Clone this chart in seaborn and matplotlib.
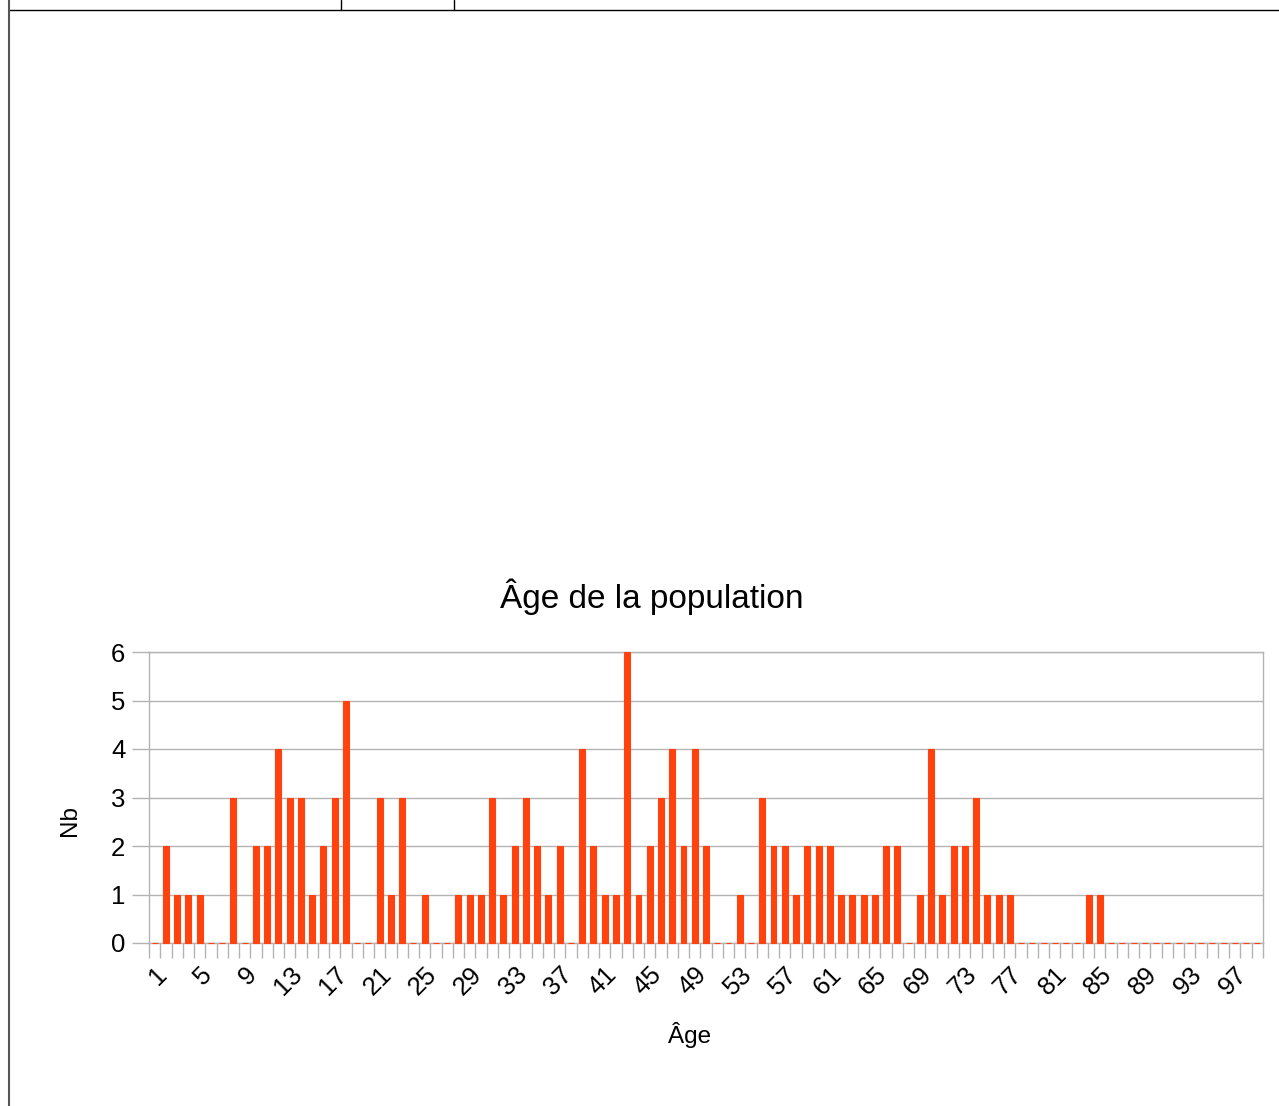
import pandas as pd
import seaborn as sns
import matplotlib.pyplot as plt
from matplotlib.lines import Line2D

ages = list(range(1, 100))
counts = [
    0, 2, 1, 1, 1, 0, 0, 3, 0, 2,    # 1-10
    2, 4, 3, 3, 1, 2, 3, 5, 0, 0,    # 11-20
    3, 1, 3, 0, 1, 0, 0, 1, 1, 1,    # 21-30
    3, 1, 2, 3, 2, 1, 2, 0, 4, 2,    # 31-40
    1, 1, 6, 1, 2, 3, 4, 2, 4, 2,    # 41-50
    0, 0, 1, 0, 3, 2, 2, 1, 2, 2,    # 51-60
    2, 1, 1, 1, 1, 2, 2, 0, 1, 4,    # 61-70
    1, 2, 2, 3, 1, 1, 1, 0, 0, 0,    # 71-80
    0, 0, 0, 1, 1, 0, 0, 0, 0, 0,    # 81-90
    0, 0, 0, 0, 0, 0, 0, 0, 0,       # 91-99
]
tick_labels = [str(a) for a in ages[::4]]

bar_color = "#ff420e"
grid_color = "#b3b3b3"

sns.set_theme(style="white")
plt.rcParams["font.family"] = ["Liberation Sans", "DejaVu Sans"]
plt.rcParams["text.color"] = "black"

df = pd.DataFrame({"age": [str(a) for a in ages], "nb": counts})

W, H = 1279, 1106
fig = plt.figure(figsize=(W / 100, H / 100), dpi=100)
ax = fig.add_axes([149 / W, 1 - 943 / H, (1263 - 149) / W, (943 - 652) / H])

sns.barplot(data=df, x="age", y="nb", color=bar_color, width=0.53,
            edgecolor=bar_color, linewidth=0.8, saturation=1, ax=ax, zorder=3)
for p in ax.patches:
    p.set_clip_on(False)

ax.set_xlim(-0.5, len(ages) - 0.5)
ax.set_ylim(0, 6)
ax.set_yticks(range(0, 7))
ax.yaxis.grid(True, color=grid_color, linewidth=1)
ax.set_axisbelow(True)

# labelled ticks every 4 categories, small marks at category boundaries
ax.set_xticks(range(0, len(ages), 4))
ax.set_xticklabels(tick_labels, rotation=45, ha="right", rotation_mode="anchor")
ax.set_xticks([i - 0.5 for i in range(len(ages) + 1)], minor=True)
ax.tick_params(axis="x", which="major", length=0, labelsize=18.5, pad=14, labelcolor="black")
ax.tick_params(axis="x", which="minor", length=11, color=grid_color, width=1, bottom=True)
ax.tick_params(axis="y", length=12, color=grid_color, width=1, labelsize=18.5, pad=5,
               left=True, labelcolor="black")

for s in ax.spines.values():
    s.set_color(grid_color)
    s.set_linewidth(1)

ax.set_xlabel("")
ax.set_ylabel("")
fig.text(652 / W, 1 - 597 / H, "Âge de la population", fontsize=24, ha="center", va="center")
fig.text(690 / W, 1 - 1035 / H, "Âge", fontsize=17.5, ha="center", va="center")
fig.text(70 / W, 1 - 820 / H, "Nb", fontsize=17.5, ha="center", va="center", rotation=90)

# spreadsheet frame lines around the chart
fig.add_artist(Line2D([9 / W, 1], [1 - 10 / H] * 2, color="black", lw=1))
fig.add_artist(Line2D([9 / W] * 2, [0, 1], color="#555555", lw=1.5))
fig.add_artist(Line2D([341 / W] * 2, [1 - 10 / H, 1], color="black", lw=1))
fig.add_artist(Line2D([454 / W] * 2, [1 - 10 / H, 1], color="black", lw=1))

fig.savefig("out.png", dpi=100)
